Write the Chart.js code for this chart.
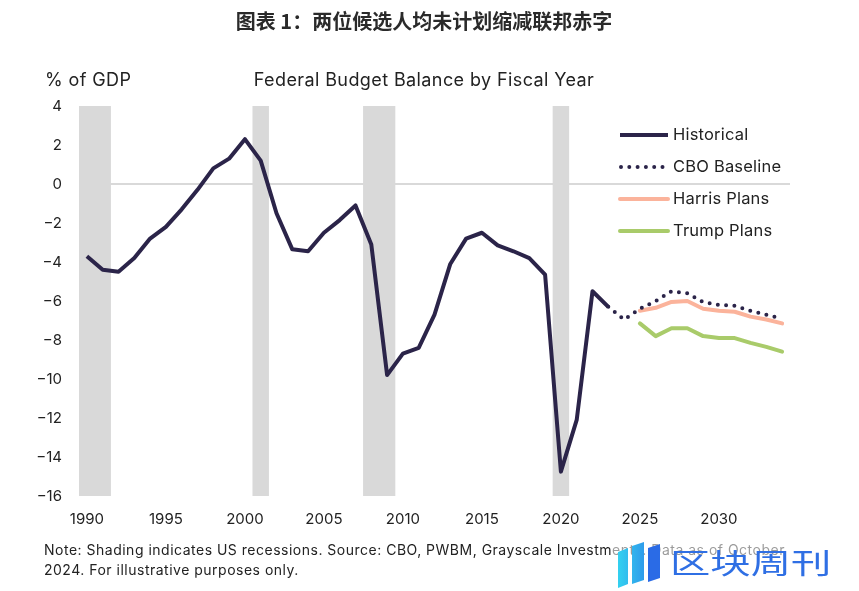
<!DOCTYPE html>
<html>
<head>
<meta charset="utf-8">
<script src="https://cdn.jsdelivr.net/npm/chart.js@4.4.0/dist/chart.umd.min.js"></script>
<style>
  html, body { margin: 0; padding: 0; background: #ffffff; }
  #wrap { width: 859px; height: 591px; position: relative; }
</style>
</head>
<body>
<div id="wrap"><canvas id="c" width="859" height="591"></canvas></div>
<script>
// ---------- DATA ----------
const years = [];
for (let y = 1990; y <= 2034; y++) years.push(String(y));

const tickYears = ['1990','1995','2000','2005','2010','2015','2020','2025','2030'];
const yTicks = [4, 2, 0, -2, -4, -6, -8, -10, -12, -14, -16];

const recessionYears = ['1990','1991','2001','2008','2009','2020'];

const historicalYears = ['1990','1991','1992','1993','1994','1995','1996','1997','1998','1999',
  '2000','2001','2002','2003','2004','2005','2006','2007','2008','2009',
  '2010','2011','2012','2013','2014','2015','2016','2017','2018','2019',
  '2020','2021','2022','2023'];
const historicalValues = [-3.7, -4.4, -4.5, -3.8, -2.8, -2.2, -1.3, -0.3, 0.8, 1.3,
  2.3, 1.2, -1.5, -3.35, -3.45, -2.5, -1.85, -1.1, -3.1, -9.8,
  -8.7, -8.4, -6.7, -4.1, -2.8, -2.5, -3.15, -3.45, -3.8, -4.65,
  -14.75, -12.1, -5.5, -6.3];

const cboYears = ['2023','2024','2025','2026','2027','2028','2029','2030','2031','2032','2033','2034'];
const cboValues = [-6.3, -6.95, -6.4, -6.0, -5.5, -5.6, -6.05, -6.2, -6.25, -6.5, -6.7, -6.9];

const planYears = ['2025','2026','2027','2028','2029','2030','2031','2032','2033','2034'];
const harrisValues = [-6.5, -6.35, -6.05, -6.0, -6.4, -6.5, -6.55, -6.8, -6.95, -7.15];
const trumpValues = [-7.15, -7.8, -7.4, -7.4, -7.8, -7.9, -7.9, -8.15, -8.35, -8.6];

const recessionRange = [-16, 4];

// ---------- STYLE ----------
const C_HIST = '#2b2449';
const C_HARRIS = '#fbb39b';
const C_TRUMP = '#a9cb6a';
const C_SHADE = '#d9d9d9';
const C_TEXT = '#222222';
const LATIN = 'Inter, "Noto Sans", sans-serif';

function seriesOn(keys, vals) {
  return years.map(y => { const i = keys.indexOf(y); return i >= 0 ? vals[i] : null; });
}

const legendItems = [
  { label: 'Historical', color: C_HIST, dash: [], cap: 'butt' },
  { label: 'CBO Baseline', color: C_HIST, dash: [0, 8.3], cap: 'round' },
  { label: 'Harris Plans', color: C_HARRIS, dash: [], cap: 'round' },
  { label: 'Trump Plans', color: C_TRUMP, dash: [], cap: 'round' }
];

const textPlugin = {
  id: 'texts',
  afterDraw(chart) {
    const ctx = chart.ctx;
    ctx.save();
    // Title
    ctx.fillStyle = '#2a2a2a';
    ctx.textAlign = 'center';
    ctx.textBaseline = 'middle';
    ctx.font = 'bold 20px "Noto Sans CJK SC", sans-serif';
    ctx.fillText('图表 1：两位候选人均未计划缩减联邦赤字', 424, 21);

    // axis unit + subtitle
    ctx.fillStyle = C_TEXT;
    ctx.font = '18px ' + LATIN;
    ctx.letterSpacing = '0.4px';
    ctx.textAlign = 'left';
    ctx.fillText('% of GDP', 45, 81);
    ctx.textAlign = 'center';
    ctx.fillText('Federal Budget Balance by Fiscal Year', 424, 81);

    // legend
    const ly = [135, 167, 199, 231];
    legendItems.forEach((it, i) => {
      ctx.save();
      ctx.letterSpacing = '0px';
      ctx.strokeStyle = it.color;
      ctx.lineWidth = 4;
      ctx.lineCap = it.cap;
      ctx.setLineDash(it.dash);
      ctx.beginPath();
      ctx.moveTo(it.dash.length ? 621 : 620, ly[i]);
      ctx.lineTo(668, ly[i]);
      ctx.stroke();
      ctx.restore();
      ctx.fillStyle = C_TEXT;
      ctx.textAlign = 'left';
      ctx.textBaseline = 'middle';
      ctx.font = '16.5px ' + LATIN;
      ctx.letterSpacing = '0.2px';
      ctx.fillText(it.label, 673, ly[i]);
    });

    // note
    ctx.fillStyle = C_TEXT;
    ctx.font = '14px ' + LATIN;
    ctx.letterSpacing = '0.5px';
    ctx.textAlign = 'left';
    ctx.textBaseline = 'middle';
    ctx.fillText('Note: Shading indicates US recessions. Source: CBO, PWBM, Grayscale Investments. Data as of October', 44, 551);
    ctx.fillText('2024. For illustrative purposes only.', 44, 571);
    ctx.letterSpacing = '0px';

    // watermark
    ctx.fillStyle = 'rgba(255,255,255,0.55)';
    ctx.fillRect(612, 538, 222, 48);
    const g = ctx.createLinearGradient(618, 0, 668, 0);
    g.addColorStop(0, '#33d1f0');
    g.addColorStop(1, '#2a6be6');
    ctx.fillStyle = g;
    ctx.beginPath(); ctx.moveTo(618, 552); ctx.lineTo(628, 548); ctx.lineTo(628, 584); ctx.lineTo(618, 588); ctx.closePath(); ctx.fill();
    ctx.beginPath(); ctx.moveTo(632, 546); ctx.lineTo(644, 542); ctx.lineTo(644, 580); ctx.lineTo(632, 584); ctx.closePath(); ctx.fill();
    ctx.fillStyle = '#2a6be6';
    ctx.beginPath(); ctx.moveTo(648, 548); ctx.lineTo(660, 544); ctx.lineTo(660, 578); ctx.lineTo(648, 582); ctx.closePath(); ctx.fill();
    ctx.fillStyle = '#2f6fe4';
    ctx.font = '36px "Noto Sans CJK SC", sans-serif';
    ctx.textAlign = 'left';
    ctx.textBaseline = 'middle';
    ctx.save();
    ctx.translate(670, 563);
    ctx.scale(1.12, 0.8);
    ctx.fillText('区块周刊', 0, 0);
    ctx.restore();
    ctx.restore();
  }
};

new Chart(document.getElementById('c'), {
  data: {
    labels: years,
    datasets: [
      {
        type: 'line', label: 'Historical', data: seriesOn(historicalYears, historicalValues),
        borderColor: C_HIST, borderWidth: 4, pointRadius: 0, spanGaps: false, order: 1,
        borderJoinStyle: 'round', tension: 0
      },
      {
        type: 'line', label: 'CBO Baseline', data: seriesOn(cboYears, cboValues),
        borderColor: C_HIST, borderWidth: 4, borderDash: [0, 8.3], borderCapStyle: 'round',
        pointRadius: 0, order: 2, tension: 0
      },
      {
        type: 'line', label: 'Harris Plans', data: seriesOn(planYears, harrisValues),
        borderColor: C_HARRIS, borderWidth: 4, pointRadius: 0, order: 3, tension: 0,
        borderCapStyle: 'round', borderJoinStyle: 'round'
      },
      {
        type: 'line', label: 'Trump Plans', data: seriesOn(planYears, trumpValues),
        borderColor: C_TRUMP, borderWidth: 4, pointRadius: 0, order: 4, tension: 0,
        borderCapStyle: 'round', borderJoinStyle: 'round'
      },
      {
        type: 'bar', label: 'Recession',
        data: years.map(y => recessionYears.includes(y) ? recessionRange : null),
        backgroundColor: C_SHADE, borderWidth: 0, barPercentage: 1, categoryPercentage: 1,
        order: 10, grouped: false
      }
    ]
  },
  options: {
    responsive: false,
    animation: false,
    devicePixelRatio: 1,
    layout: { padding: { top: 106, right: 69, bottom: 0, left: 0 } },
    plugins: { legend: { display: false }, tooltip: { enabled: false }, title: { display: false } },
    scales: {
      x: {
        type: 'category',
        offset: true,
        grid: { display: false, drawTicks: false },
        border: { display: false },
        ticks: {
          autoSkip: false, maxRotation: 0, minRotation: 0, padding: 14,
          color: C_TEXT, font: { family: LATIN, size: 15 },
          callback: function (v) { const l = this.getLabelForValue(v); return tickYears.includes(l) ? l : ''; }
        },
        afterFit: s => { s.height = 95; }
      },
      y: {
        min: -16, max: 4,
        afterBuildTicks: s => { s.ticks = yTicks.map(v => ({ value: v })); },
        grid: {
          drawTicks: false,
          color: c => (c.tick && c.tick.value === 0) ? C_SHADE : 'rgba(0,0,0,0)',
          lineWidth: 2
        },
        border: { display: false },
        ticks: {
          padding: 17, color: C_TEXT, font: { family: LATIN, size: 15 },
          callback: v => String(v).replace('-', '\u2212')
        },
        afterFit: s => { s.width = 79; }
      }
    }
  },
  plugins: [textPlugin]
});
</script>
</body>
</html>
